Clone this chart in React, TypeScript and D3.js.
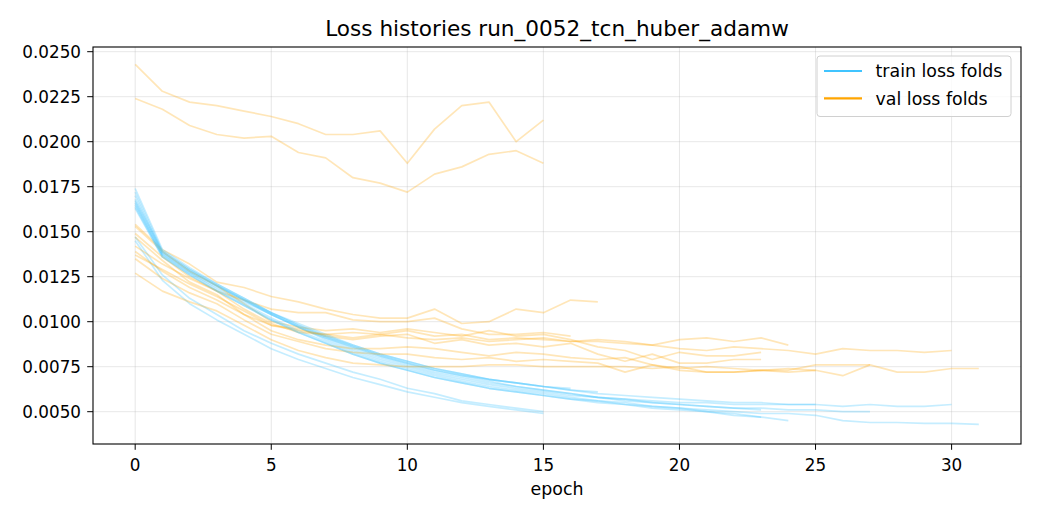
import * as d3 from 'd3';

// Per-fold loss histories (one array per fold, index = epoch)
const trainFolds: number[][] = [
  [0.0147, 0.0126, 0.0113, 0.0104, 0.0095, 0.0088, 0.0082, 0.0077, 0.0072, 0.0068, 0.0063, 0.0060, 0.0056, 0.0054, 0.0052, 0.0050],
  [0.0145, 0.0123, 0.0110, 0.0101, 0.0093, 0.0085, 0.0079, 0.0074, 0.0069, 0.0065, 0.0061, 0.0058, 0.0055, 0.0053, 0.0051, 0.0049],
  [0.0170, 0.0138, 0.0128, 0.0120, 0.0112, 0.0105, 0.0098, 0.0092, 0.0087, 0.0082, 0.0078, 0.0074, 0.0071, 0.0068, 0.0066, 0.0064, 0.0062, 0.0061],
  [0.0166, 0.0137, 0.0127, 0.0119, 0.0111, 0.0104, 0.0097, 0.0091, 0.0086, 0.0081, 0.0077, 0.0073, 0.0070, 0.0068, 0.0066, 0.0064, 0.0063],
  [0.0172, 0.0139, 0.0129, 0.0120, 0.0112, 0.0104, 0.0097, 0.0090, 0.0084, 0.0079, 0.0075, 0.0071, 0.0068, 0.0065, 0.0063, 0.0061, 0.0059, 0.0058, 0.0056, 0.0055, 0.0054, 0.0053, 0.0052, 0.0051],
  [0.0164, 0.0136, 0.0126, 0.0117, 0.0109, 0.0101, 0.0094, 0.0088, 0.0082, 0.0077, 0.0073, 0.0069, 0.0066, 0.0063, 0.0061, 0.0059, 0.0057, 0.0055, 0.0054, 0.0052, 0.0051, 0.0050, 0.0048, 0.0047],
  [0.0165, 0.0137, 0.0127, 0.0118, 0.0110, 0.0102, 0.0095, 0.0089, 0.0083, 0.0078, 0.0074, 0.0070, 0.0067, 0.0064, 0.0062, 0.0060, 0.0058, 0.0056, 0.0055, 0.0053, 0.0052, 0.0050, 0.0049, 0.0047, 0.0045],
  [0.0168, 0.0139, 0.0129, 0.0121, 0.0113, 0.0105, 0.0099, 0.0093, 0.0087, 0.0082, 0.0078, 0.0074, 0.0071, 0.0068, 0.0066, 0.0064, 0.0062, 0.0060, 0.0059, 0.0058, 0.0057, 0.0056, 0.0055, 0.0055, 0.0054, 0.0054],
  [0.0174, 0.0140, 0.0130, 0.0121, 0.0113, 0.0105, 0.0098, 0.0092, 0.0086, 0.0081, 0.0077, 0.0073, 0.0070, 0.0067, 0.0064, 0.0062, 0.0060, 0.0058, 0.0057, 0.0055, 0.0054, 0.0053, 0.0052, 0.0052, 0.0051, 0.0051, 0.0050, 0.0050],
  [0.0167, 0.0138, 0.0128, 0.0120, 0.0112, 0.0104, 0.0097, 0.0091, 0.0085, 0.0080, 0.0076, 0.0072, 0.0069, 0.0066, 0.0064, 0.0062, 0.0060, 0.0058, 0.0057, 0.0056, 0.0055, 0.0055, 0.0054, 0.0054, 0.0054, 0.0054, 0.0053, 0.0054, 0.0053, 0.0053, 0.0054],
  [0.0163, 0.0136, 0.0126, 0.0117, 0.0109, 0.0101, 0.0094, 0.0088, 0.0082, 0.0077, 0.0073, 0.0069, 0.0066, 0.0063, 0.0061, 0.0059, 0.0057, 0.0056, 0.0054, 0.0053, 0.0052, 0.0051, 0.0050, 0.0049, 0.0049, 0.0048, 0.0045, 0.0044, 0.0044, 0.00435, 0.00435, 0.0043],
];

const valFolds: number[][] = [
  [0.0243, 0.0228, 0.0222, 0.0220, 0.0217, 0.0214, 0.0210, 0.0204, 0.0204, 0.0206, 0.0188, 0.0207, 0.0220, 0.0222, 0.0200, 0.0212],
  [0.0224, 0.0218, 0.0209, 0.0204, 0.0202, 0.0203, 0.0194, 0.0191, 0.0180, 0.0177, 0.0172, 0.0182, 0.0186, 0.0193, 0.0195, 0.0188],
  [0.0154, 0.0140, 0.0132, 0.0122, 0.0119, 0.0114, 0.0111, 0.0107, 0.0104, 0.0102, 0.0102, 0.0107, 0.0099, 0.0100, 0.0107, 0.0105, 0.0112, 0.0111],
  [0.0142, 0.0132, 0.0124, 0.0117, 0.0112, 0.0107, 0.0105, 0.0105, 0.0101, 0.0100, 0.0100, 0.0102, 0.0096, 0.0093, 0.0093, 0.0094, 0.0092],
  [0.0153, 0.0139, 0.0128, 0.0120, 0.0110, 0.0100, 0.0097, 0.0095, 0.0096, 0.0094, 0.0096, 0.0094, 0.0092, 0.0095, 0.0092, 0.0093, 0.0090, 0.0086, 0.0084, 0.0079, 0.0083, 0.0081, 0.0081, 0.0083],
  [0.0147, 0.0134, 0.0122, 0.0115, 0.0104, 0.0098, 0.0096, 0.0092, 0.0090, 0.0092, 0.0093, 0.0088, 0.0090, 0.0087, 0.0088, 0.0086, 0.0088, 0.0082, 0.0078, 0.0082, 0.0077, 0.0077, 0.0079, 0.0079],
  [0.0149, 0.0136, 0.0125, 0.0117, 0.0107, 0.0099, 0.0094, 0.0093, 0.0091, 0.0093, 0.0091, 0.0090, 0.0091, 0.0089, 0.0090, 0.0091, 0.0089, 0.0090, 0.0089, 0.0087, 0.0090, 0.0091, 0.0089, 0.0091, 0.0087],
  [0.0139, 0.0128, 0.0119, 0.0112, 0.0104, 0.0095, 0.0090, 0.0087, 0.0085, 0.0085, 0.0086, 0.0085, 0.0083, 0.0081, 0.0083, 0.0082, 0.0080, 0.0079, 0.0080, 0.0076, 0.0074, 0.0075, 0.0074, 0.0073, 0.0074, 0.0073],
  [0.0135, 0.0124, 0.0116, 0.0110, 0.0101, 0.0093, 0.0089, 0.0085, 0.0083, 0.0082, 0.0082, 0.0080, 0.0079, 0.0080, 0.0078, 0.0079, 0.0078, 0.0077, 0.0072, 0.0076, 0.0073, 0.0072, 0.0072, 0.0073, 0.0073, 0.0076, 0.0076, 0.0076],
  [0.0137, 0.0129, 0.0121, 0.0114, 0.0106, 0.0098, 0.0095, 0.0093, 0.0094, 0.0093, 0.0095, 0.0092, 0.0093, 0.0090, 0.0091, 0.0090, 0.0089, 0.0089, 0.0088, 0.0087, 0.0085, 0.0084, 0.0086, 0.0085, 0.0084, 0.0082, 0.0085, 0.0084, 0.0084, 0.0083, 0.0084],
  [0.0127, 0.0117, 0.0111, 0.0106, 0.0098, 0.0090, 0.0084, 0.0080, 0.0077, 0.0076, 0.0075, 0.0075, 0.0075, 0.0076, 0.0076, 0.0075, 0.0075, 0.0075, 0.0075, 0.0074, 0.0075, 0.0072, 0.0072, 0.0073, 0.0072, 0.0073, 0.0070, 0.0076, 0.0072, 0.0072, 0.0074, 0.0074],
];

const xTicks = [0, 5, 10, 15, 20, 25, 30];
const yTicks = [0.005, 0.0075, 0.01, 0.0125, 0.015, 0.0175, 0.02, 0.0225, 0.025];
const legendItems = ['train loss folds', 'val loss folds'];

const TRAIN_COLOR = '#40C4FF';
const VAL_COLOR = '#FFA500';
const FONT = '"DejaVu Sans", sans-serif';

export default function App() {
  const width = 1040;
  const height = 520;
  const left = 93, right = 1021, top = 47, bottom = 444;

  const x = d3.scaleLinear().domain([-1.55, 32.55]).range([left, right]);
  const y = d3.scaleLinear().domain([0.003205, 0.025261]).range([bottom, top]);

  const line = d3.line<number>()
    .x((_d, i) => x(i))
    .y(d => y(d));

  const midX = (left + right) / 2;
  const tickFont = 16.8;
  const labelFont = 17.4;

  return (
    <svg
      width={width}
      height={height}
      viewBox={`0 0 ${width} ${height}`}
      style={{ position: 'absolute', left: 0, top: 0, background: '#fff' }}
      fontFamily={FONT}
    >
      <rect width={width} height={height} fill="#fff" />

      {/* grid */}
      <g stroke="#b0b0b0" strokeOpacity={0.3} strokeWidth={1}>
        {xTicks.map(t => (
          <line key={`gx${t}`} x1={x(t)} x2={x(t)} y1={top} y2={bottom} />
        ))}
        {yTicks.map(t => (
          <line key={`gy${t}`} x1={left} x2={right} y1={y(t)} y2={y(t)} />
        ))}
      </g>

      {/* fold curves */}
      <g fill="none" strokeWidth={1.7} strokeLinejoin="round" strokeLinecap="butt">
        {trainFolds.map((fold, i) => (
          <g key={`f${i}`}>
            <path d={line(fold) ?? ''} stroke={TRAIN_COLOR} strokeOpacity={0.3} />
            <path d={line(valFolds[i]) ?? ''} stroke={VAL_COLOR} strokeOpacity={0.28} />
          </g>
        ))}
      </g>

      {/* axes frame */}
      <rect x={left} y={top} width={right - left} height={bottom - top} fill="none" stroke="#000" strokeWidth={1.1} />

      {/* x ticks */}
      <g fontSize={tickFont} fill="#000" textAnchor="middle">
        {xTicks.map(t => (
          <g key={`xt${t}`}>
            <line x1={x(t)} x2={x(t)} y1={bottom} y2={bottom + 5.8} stroke="#000" />
            <text x={x(t)} y={470.5}>{t}</text>
          </g>
        ))}
      </g>

      {/* y ticks */}
      <g fontSize={tickFont} fill="#000" textAnchor="end">
        {yTicks.map(t => (
          <g key={`yt${t}`}>
            <line x1={left - 5.8} x2={left} y1={y(t)} y2={y(t)} stroke="#000" />
            <text x={left - 12} y={y(t) + 6}>{t.toFixed(4)}</text>
          </g>
        ))}
      </g>

      {/* labels */}
      <text x={midX} y={495} fontSize={labelFont} textAnchor="middle">epoch</text>
      <text x={midX} y={36} fontSize={21.6} textAnchor="middle">
        Loss histories run_0052_tcn_huber_adamw
      </text>

      {/* legend */}
      <g>
        <rect x={817} y={56} width={194} height={60.5} rx={3} fill="#fff" fillOpacity={0.8} stroke="#d0d0d0" />
        {legendItems.map((label, i) => (
          <g key={label} transform={`translate(0,${71 + i * 27.3})`}>
            <line x1={824} x2={862} y1={0} y2={0} stroke={i === 0 ? TRAIN_COLOR : VAL_COLOR} strokeWidth={2.2} />
            <text x={875.5} y={6.2} fontSize={labelFont}>{label}</text>
          </g>
        ))}
      </g>
    </svg>
  );
}
